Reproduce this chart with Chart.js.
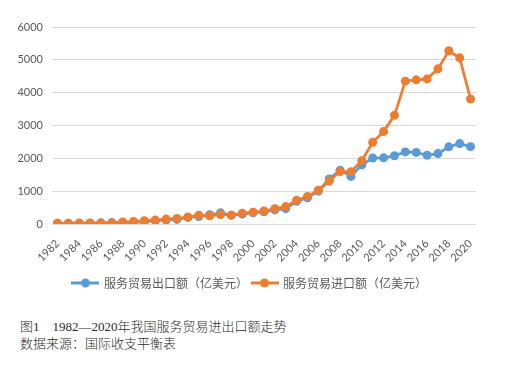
<!DOCTYPE html>
<html><head><meta charset="utf-8">
<script src="https://cdn.jsdelivr.net/npm/chart.js@4"></script>
<style>
html,body{margin:0;padding:0;background:#fff;width:507px;height:369px;overflow:hidden;}
#wrap{position:absolute;left:0;top:0;width:507px;height:300px;}
.cap{position:absolute;left:20px;font-family:"Liberation Serif","Noto Sans CJK SC",serif;font-size:13px;font-weight:300;color:#2a2a2a;white-space:pre;line-height:16px;}
</style></head><body>
<div id="wrap"><canvas id="c" width="507" height="300"></canvas></div>
<div class="cap" style="top:319px;">图1　1982—2020年我国服务贸易进出口额走势</div>
<div class="cap" style="top:336px;">数据来源：国际收支平衡表</div>
<script>
const years = ["1982","1983","1984","1985","1986","1987","1988","1989","1990","1991","1992","1993","1994","1995","1996","1997","1998","1999","2000","2001","2002","2003","2004","2005","2006","2007","2008","2009","2010","2011","2012","2013","2014","2015","2016","2017","2018","2019","2020"];
const exportsSeries = [25,25,28,29,36,42,47,45,70,100,120,140,200,230,280,340,270,300,340,370,430,470,690,800,1000,1370,1640,1450,1800,2010,2015,2080,2195,2180,2095,2145,2350,2450,2355];
const importsSeries = [20,20,25,25,25,30,60,75,100,120,150,170,210,270,250,290,270,330,360,395,465,530,720,840,1030,1310,1600,1590,1930,2490,2815,3310,4350,4390,4420,4725,5275,5060,3805];
const seriesNames = ["服务贸易出口额（亿美元）","服务贸易进口额（亿美元）"];
const yTicks = [0,1000,2000,3000,4000,5000,6000];
const colors = ["#5B9BD5","#ED7D31"];

function legendIcon(color){
  const cv=document.createElement('canvas'); cv.width=28; cv.height=10;
  const g=cv.getContext('2d');
  g.strokeStyle=color; g.lineWidth=3; g.beginPath(); g.moveTo(0,5); g.lineTo(28,5); g.stroke();
  g.fillStyle=color; g.beginPath(); g.arc(14,5,4.5,0,Math.PI*2); g.fill();
  return cv;
}
const icons = colors.map(legendIcon);

new Chart(document.getElementById('c'),{
  type:'line',
  data:{labels:years,datasets:[
    {label:seriesNames[0],data:exportsSeries,borderColor:colors[0],backgroundColor:colors[0],borderWidth:2.75,pointRadius:4.5,pointBorderWidth:0,pointStyle:'circle',order:1},
    {label:seriesNames[1],data:importsSeries,borderColor:colors[1],backgroundColor:colors[1],borderWidth:2.75,pointRadius:4.5,pointBorderWidth:0,pointStyle:'circle',order:0}
  ]},
  options:{
    responsive:false,animation:false,
    layout:{padding:{left:0,right:7,top:27,bottom:1}},
    plugins:{
      tooltip:{enabled:false},
      legend:{position:'bottom',
        labels:{usePointStyle:true,pointStyleWidth:25,boxHeight:10,padding:4,color:'#595959',
          font:{family:'"Noto Sans CJK SC"',size:12},
          sort:(a,b)=>a.datasetIndex-b.datasetIndex,
          generateLabels:(chart)=>chart.data.datasets.map((d,i)=>({text:d.label,pointStyle:icons[i],datasetIndex:i,fontColor:'#595959',lineWidth:0,strokeStyle:'transparent',fillStyle:colors[i]}))
        }}
    },
    scales:{
      x:{offset:true,grid:{display:false,drawTicks:false},border:{display:false},
        afterFit:(s)=>{s.height=49;},
        ticks:{autoSkip:false,minRotation:45,maxRotation:45,padding:13,color:'#595959',font:{family:'Lato',size:11},
          callback:function(v,i){return i%2===0?this.getLabelForValue(v):'';}}},
      y:{min:0,max:6000,afterFit:(s)=>{s.width=52;},
        afterBuildTicks:(s)=>{s.ticks=yTicks.map(v=>({value:v}));},
        grid:{color:'#d9d9d9',lineWidth:1,drawTicks:false},border:{display:false},
        ticks:{padding:9,color:'#595959',font:{family:'Lato',size:11},callback:(v)=>String(v)}},
      yR:{position:'right',display:true,afterFit:(s)=>{s.width=24;},
        grid:{display:false,drawTicks:false},border:{display:false},ticks:{display:false}}
    }
  }
});
</script>
</body></html>
